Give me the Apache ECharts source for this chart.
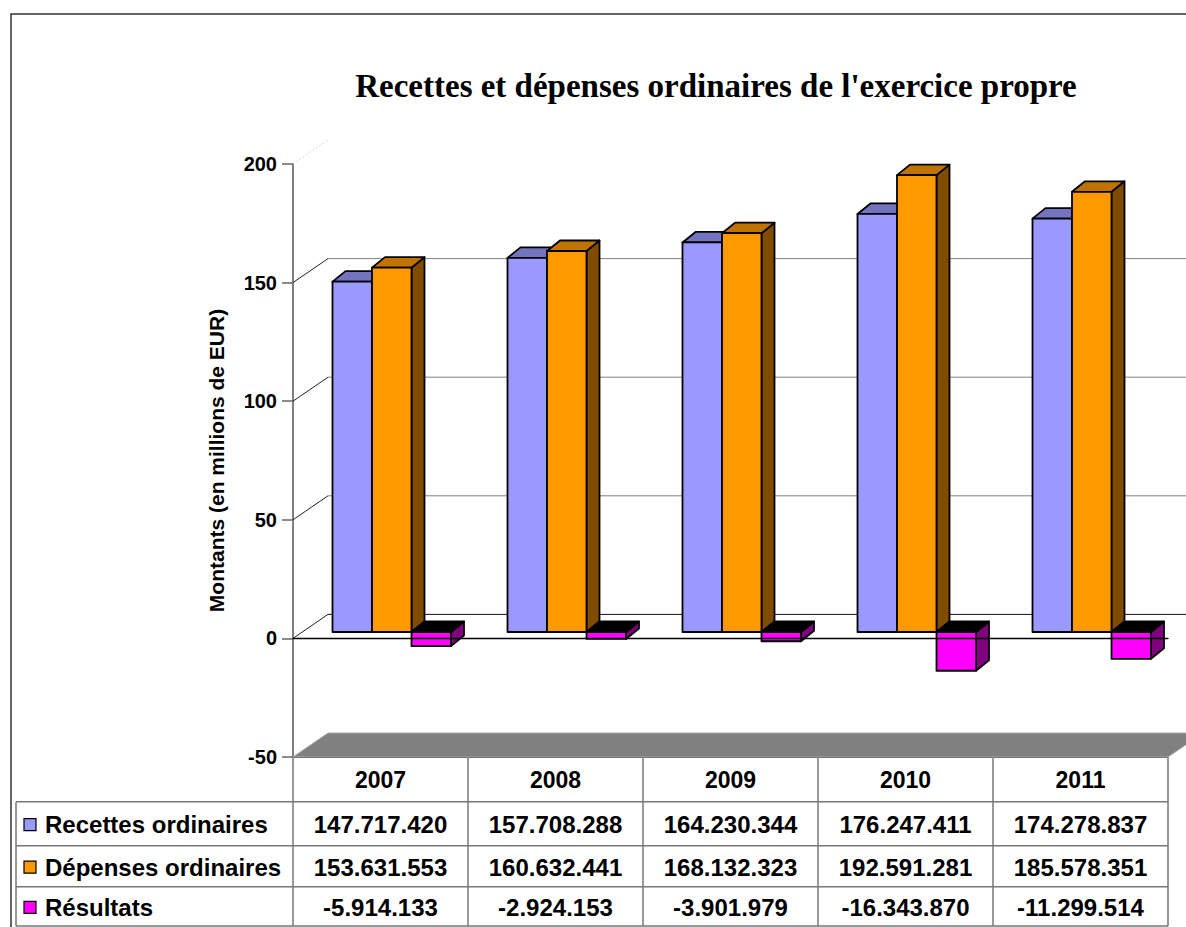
<!DOCTYPE html>
<html>
<head>
<meta charset="utf-8">
<title>Recettes et dépenses ordinaires</title>
<script src="https://cdn.jsdelivr.net/npm/echarts@6/dist/echarts.min.js"></script>
<style>
  html, body { margin: 0; padding: 0; background: #fff; }
  #chart { width: 1186px; height: 927px; }
</style>
</head>
<body>
<div id="chart"></div>
<script>
// données (EUR)
const years = ['2007', '2008', '2009', '2010', '2011'];
const recettes = [147717420, 157708288, 164230344, 176247411, 174278837];
const depenses = [153631553, 160632441, 168132323, 192591281, 185578351];
const resultats = [-5914133, -2924153, -3901979, -16343870, -11299514];
const seriesNames = ['Recettes ordinaires', 'Dépenses ordinaires', 'Résultats'];
const yTicks = [-50, 0, 50, 100, 150, 200];

// zone de tracé
const GRID_LEFT = 293;
const GRID_TOP = 164;
const GRID_W = 875;
const GRID_H = 593;
const WALL_DX = 35, WALL_DY = -24;   // profondeur du mur
const BAR_DX = 13, BAR_DY = -10.5;   // profondeur des barres
const BAR_LIFT = -6.4;               // barres placées un peu en retrait
const BAR_W = 39.5;
const barLeft = [-48, -8.5, 31];

const faceColors = [
    { front: '#9999FF', top: '#7373BF', side: '#4D4D80' },
    { front: '#FF9900', top: '#C07300', side: '#804C00' },
    { front: '#FF00FF', top: '#000000', side: '#800080' }
];

const FONT = 'Liberation Sans, Arial, sans-serif';

// 147717420 -> 147.717.420
function fmt(n) {
    const s = Math.abs(n).toString().replace(/\B(?=(\d{3})+(?!\d))/g, '.');
    return (n < 0 ? '-' : '') + s;
}

// murs, quadrillage et sol
function renderWall(params, api) {
    const v = api.value(1);
    const cs = params.coordSys;
    const y = api.coord([0, v])[1];
    const x0 = cs.x, x1 = cs.x + cs.width;
    const children = [];
    if (v === yTicks[0]) {
        children.push({
            type: 'polygon',
            shape: { points: [[x0, y], [x0 + WALL_DX, y + WALL_DY], [x1 + WALL_DX, y + WALL_DY], [x1, y]] },
            style: { fill: '#808080', stroke: '#A8A8A8', lineWidth: 1 }
        });
    } else if (v === yTicks[yTicks.length - 1]) {
        children.push({
            type: 'line',
            shape: { x1: x0, y1: y, x2: x0 + WALL_DX, y2: y + WALL_DY },
            style: { stroke: '#D8D8D8', lineWidth: 1, lineDash: [2, 2] }
        });
    } else {
        children.push({
            type: 'line',
            shape: { x1: x0, y1: y, x2: x0 + WALL_DX, y2: y + WALL_DY },
            style: { stroke: '#222', lineWidth: 1 }
        });
        children.push({
            type: 'line',
            shape: { x1: x0 + WALL_DX, y1: y + WALL_DY, x2: x1 + WALL_DX, y2: y + WALL_DY },
            style: { stroke: v === 0 ? '#111' : '#808080', lineWidth: 1 }
        });
    }
    return { type: 'group', children: children };
}

// barre 3D
function makeBarRender(s) {
    return function (params, api) {
        const i = api.value(0);
        const base = api.coord([i, 0]);
        const end = api.coord([i, api.value(1)]);
        const x = base[0] + barLeft[s];
        const y0 = base[1] + BAR_LIFT;
        const y1 = end[1] + BAR_LIFT;
        const yt = Math.min(y0, y1), yb = Math.max(y0, y1);
        const c = faceColors[s];
        const line = { stroke: '#000', lineWidth: 1.8, lineJoin: 'round' };
        return {
            type: 'group',
            children: [
                {
                    type: 'polygon',
                    shape: { points: [[x + BAR_W, yt], [x + BAR_W + BAR_DX, yt + BAR_DY], [x + BAR_W + BAR_DX, yb + BAR_DY], [x + BAR_W, yb]] },
                    style: Object.assign({ fill: c.side }, line)
                },
                {
                    type: 'polygon',
                    shape: { points: [[x, yt], [x + BAR_DX, yt + BAR_DY], [x + BAR_W + BAR_DX, yt + BAR_DY], [x + BAR_W, yt]] },
                    style: Object.assign({ fill: c.top }, line)
                },
                {
                    type: 'rect',
                    shape: { x: x, y: yt, width: BAR_W, height: yb - yt },
                    style: Object.assign({ fill: c.front }, line)
                }
            ]
        };
    };
}

// tableau de données sous le graphique
function buildTable() {
    const colW = GRID_W / years.length;
    const top = GRID_TOP + GRID_H;
    const rows = [top, 801.7, 845.7, 886.7, 926];
    const tLeft = 16, tRight = GRID_LEFT + GRID_W;
    const lineStyle = { stroke: '#777', lineWidth: 1.5 };
    const els = [];
    // lignes horizontales
    for (let r = 1; r < rows.length; r++) {
        els.push({ type: 'line', shape: { x1: tLeft, y1: rows[r], x2: tRight, y2: rows[r] }, style: lineStyle });
    }
    els.push({ type: 'line', shape: { x1: GRID_LEFT, y1: top, x2: tRight, y2: top }, style: { stroke: '#000', lineWidth: 1.5 } });
    // lignes verticales
    els.push({ type: 'line', shape: { x1: tLeft, y1: rows[1], x2: tLeft, y2: rows[4] }, style: lineStyle });
    for (let k = 0; k <= years.length; k++) {
        const x = GRID_LEFT + k * colW;
        els.push({ type: 'line', shape: { x1: x, y1: top, x2: x, y2: rows[4] }, style: lineStyle });
    }
    // années
    years.forEach((yr, k) => {
        els.push({
            type: 'text',
            style: {
                text: yr, x: GRID_LEFT + (k + 0.5) * colW, y: (rows[0] + rows[1]) / 2 + 1,
                align: 'center', verticalAlign: 'middle',
                font: 'bold 23px ' + FONT, fill: '#000'
            }
        });
    });
    // lignes de valeurs
    const data = [recettes, depenses, resultats];
    data.forEach((arr, r) => {
        const yc = (rows[r + 1] + rows[r + 2]) / 2 + 1;
        els.push({
            type: 'rect',
            shape: { x: 24, y: yc - 6, width: 12, height: 12 },
            style: { fill: faceColors[r].front, stroke: '#000', lineWidth: 1.2 }
        });
        els.push({
            type: 'text',
            style: {
                text: seriesNames[r], x: 45, y: yc,
                align: 'left', verticalAlign: 'middle',
                font: 'bold 24px ' + FONT, fill: '#000'
            }
        });
        arr.forEach((v, k) => {
            els.push({
                type: 'text',
                style: {
                    text: fmt(v), x: GRID_LEFT + (k + 0.5) * colW, y: yc,
                    align: 'center', verticalAlign: 'middle',
                    font: 'bold 24px ' + FONT, fill: '#000'
                }
            });
        });
    });
    return els;
}

const myChart = echarts.init(document.getElementById('chart'), null, { renderer: 'svg' });

const barData = [recettes, depenses, resultats].map(arr => arr.map((v, i) => [i, v / 1e6]));

const option = {
    animation: false,
    backgroundColor: '#fff',
    title: {
        text: "Recettes et dépenses ordinaires de l'exercice propre",
        left: 711,
        top: 64,
        textAlign: 'center',
        textStyle: { fontFamily: 'Liberation Serif, Times New Roman, serif', fontWeight: 'bold', fontSize: 33, color: '#000' }
    },
    grid: { left: GRID_LEFT, top: GRID_TOP, width: GRID_W, height: GRID_H, containLabel: false },
    xAxis: {
        type: 'category',
        data: years,
        z: 10,
        axisLine: { show: true, onZero: true, lineStyle: { color: '#000', width: 1.3 } },
        axisTick: { show: false },
        axisLabel: { show: false },
        splitLine: { show: false }
    },
    yAxis: {
        type: 'value',
        min: yTicks[0],
        max: yTicks[yTicks.length - 1],
        interval: 50,
        name: 'Montants (en millions de EUR)',
        nameLocation: 'middle',
        nameGap: 66,
        nameRotate: 90,
        nameTextStyle: { fontFamily: FONT, fontWeight: 'bold', fontSize: 21, color: '#000' },
        axisLine: { show: true, lineStyle: { color: '#555', width: 1.5 } },
        axisTick: { show: true, length: 11, lineStyle: { color: '#666', width: 1.5 } },
        axisLabel: { margin: 16, fontFamily: FONT, fontWeight: 'bold', fontSize: 20, color: '#000' },
        splitLine: { show: false }
    },
    series: [
        {
            type: 'custom',
            name: 'murs',
            z: 1,
            renderItem: renderWall,
            data: yTicks.map(v => [0, v]),
            silent: true
        }
    ].concat(barData.map((d, s) => ({
        type: 'custom',
        name: seriesNames[s],
        z: 2 + s,
        renderItem: makeBarRender(s),
        data: d
    }))),
    graphic: [
        {
            type: 'rect',
            z: -10,
            silent: true,
            shape: { x: 11, y: 14, width: 1300, height: 1000 },
            style: { fill: 'none', stroke: '#333', lineWidth: 1.5 }
        },
        {
            type: 'group',
            z: 20,
            silent: true,
            children: buildTable()
        }
    ]
};

myChart.setOption(option);
</script>
</body>
</html>
